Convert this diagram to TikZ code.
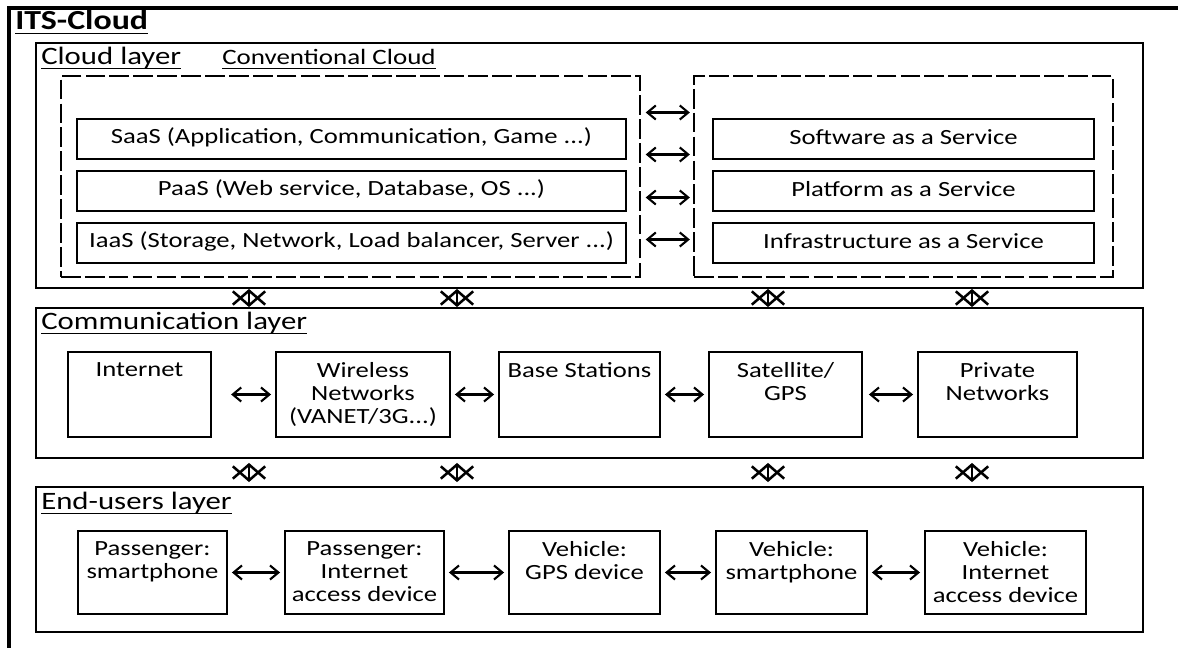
\documentclass[tikz,border=0pt]{standalone}
\usepackage{fontspec}
\setmainfont{Carlito}[FakeStretch=1.23]
\usetikzlibrary{arrows.meta,fit,positioning}

\newcommand{\boxfont}{\fontsize{15.4}{16.4}\selectfont}
\newcommand{\ulabel}[1]{\setbox0\hbox{#1}\rlap{\rule[-2.6pt]{\wd0}{0.8pt}}\box0}
\tikzset{
  layerbox/.style={draw, line width=1.3pt, inner sep=0pt},
  groupbox/.style={draw, line width=1.3pt, dash pattern=on 14pt off 3pt, inner sep=0pt},
  unitbox/.style={draw, line width=1.3pt, inner sep=0pt, font=\boxfont},
  boxtext/.style={anchor=north, align=center, inner sep=0pt, yshift=-0.27cm, font=\boxfont},
  celltext/.style={anchor=base, inner sep=0pt, yshift=0.05cm, font=\boxfont},
  layertitle/.style={anchor=base west, inner sep=0pt, font=\fontsize{17.8}{20}\selectfont},
  biarrow/.style={>={Straight Barb[length=6pt,width=10pt]}, <->, line width=1.5pt, shorten <=0.1cm, shorten >=0.1cm},
  crossarrow/.style={>={Straight Barb[length=10pt,width=23pt]}, <->, line width=1.8pt}
}

\begin{document}
\begin{tikzpicture}[x=0.025cm, y=-0.025cm]
                    \useasboundingbox (0,0) rectangle (1178,648);

                    % Drawing outer frame
                    \draw [line width=2.2pt] (9,648) -- (9,8) -- (1178,8);%
                    \node [anchor=base west, inner sep=0pt, font=\fontsize{19.6}{22}\selectfont\bfseries] (title) at (15,30) {\ulabel{ITS-Cloud}};%

                    % Drawing cloud layer
                    \node [layerbox, fit={(36,43) (1143,288)}] (cloud) {};%
                    \node [layertitle] (cloud-t) at (41,65) {\ulabel{Cloud layer}};%
                    \node [layertitle, font=\fontsize{15.6}{18}\selectfont] (conv-t) at (222,65) {\ulabel{Conventional Cloud}};%
                    \node [groupbox, fit={(61,76) (640,277)}] (conv) {};%
                    \node [groupbox, fit={(694,76) (1113,277)}] (svc) {};%
                    \node [unitbox, fit={(77,119) (626,159)}, label={[celltext]center:SaaS (Application, Communication, Game ...)}] (saas) {};%
                    \node [unitbox, fit={(77,171) (626,211)}, label={[celltext]center:PaaS (Web service, Database, OS ...)}] (paas) {};%
                    \node [unitbox, fit={(77,223) (626,263)}, label={[celltext]center:IaaS (Storage, Network, Load balancer, Server ...)}] (iaas) {};%
                    \node [unitbox, fit={(713,119) (1094,159)}, label={[celltext]center:Software as a Service}] (sw) {};%
                    \node [unitbox, fit={(713,171) (1094,211)}, label={[celltext]center:Platform as a Service}] (pf) {};%
                    \node [unitbox, fit={(713,223) (1094,263)}, label={[celltext]center:Infrastructure as a Service}] (inf) {};%
                    \foreach \y in {112.5,154.5,197.5,239.5}
                      \draw [biarrow, shorten <=0.12cm, shorten >=0.08cm] (conv.east |- 0,\y) -- (svc.west |- 0,\y);%

                    % Drawing communication layer
                    \node [layerbox, fit={(36,308) (1143,458)}] (comm) {};%
                    \node [layertitle] (comm-t) at (41,330) {\ulabel{Communication layer}};%
                    \node [unitbox, fit={(68,352) (211,437)}, label={[boxtext]north:Internet}] (internet) {};%
                    \node [unitbox, fit={(276,352) (450,437)}, label={[boxtext]north:{Wireless\\Networks\\(VANET/3G...)}}] (wireless) {};%
                    \node [unitbox, fit={(499,352) (660,437)}, label={[boxtext]north:Base Stations}] (base) {};%
                    \node [unitbox, fit={(709,352) (862,437)}, label={[boxtext]north:{Satellite/\\GPS}}] (sat) {};%
                    \node [unitbox, fit={(918,352) (1077,437)}, label={[boxtext]north:{Private\\Networks}}] (private) {};%
                    \draw [biarrow, shorten <=0.48cm] (internet) -- (wireless);%
                    \draw [biarrow] (wireless) -- (base);%
                    \draw [biarrow] (base) -- (sat);%
                    \draw [biarrow, shorten <=0.15cm] (sat) -- (private);%

                    % Drawing end-users layer
                    \node [layerbox, fit={(36,487) (1143,632)}] (enduser) {};%
                    \node [layertitle] (enduser-t) at (41,510) {\ulabel{End-users layer}};%
                    \node [unitbox, fit={(78,531) (227,614)}, label={[boxtext]north:{Passenger:\\smartphone}}] (pphone) {};%
                    \node [unitbox, fit={(285,531) (444,614)}, label={[boxtext]north:{Passenger:\\Internet\\access device}}] (pdevice) {};%
                    \node [unitbox, fit={(509,531) (660,614)}, label={[boxtext]north:{Vehicle:\\GPS device}}] (vgps) {};%
                    \node [unitbox, fit={(716,531) (867,614)}, label={[boxtext]north:{Vehicle:\\smartphone}}] (vphone) {};%
                    \node [unitbox, fit={(925,531) (1086,614)}, label={[boxtext]north:{Vehicle:\\Internet\\access device}}] (vdevice) {};%
                    \draw [biarrow] (pphone) -- (pdevice);%
                    \draw [biarrow] (pdevice) -- (vgps);%
                    \draw [biarrow] (vgps) -- (vphone);%
                    \draw [biarrow] (vphone) -- (vdevice);%

                    % Drawing links between the layers
                    \foreach \x in {249,457,768,972} {
                      \draw [crossarrow] (cloud.south -| \x,0) -- (comm.north -| \x,0);%
                      \draw [crossarrow] ([yshift=-0.1cm]comm.south -| \x,0) -- ([yshift=0.1cm]enduser.north -| \x,0);%
                    }
\end{tikzpicture}
\end{document}
